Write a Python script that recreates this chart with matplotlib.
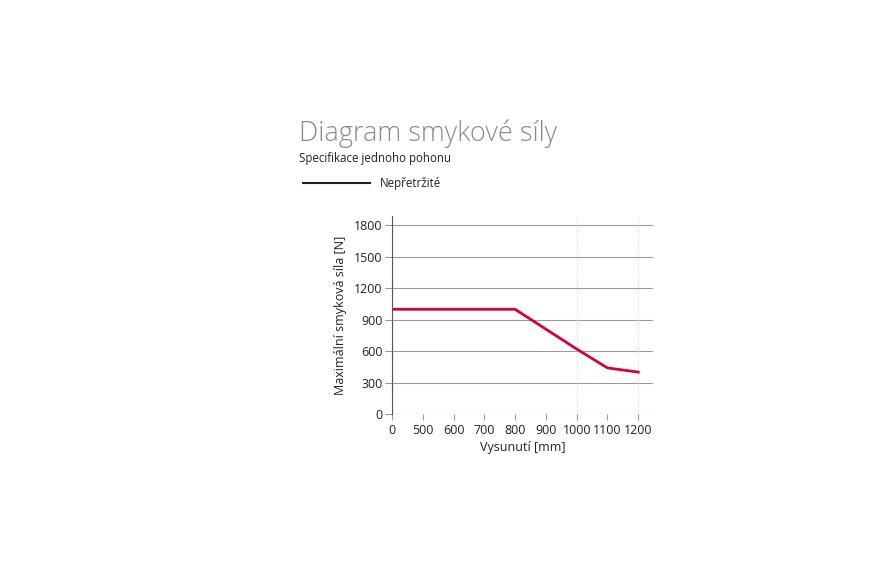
import matplotlib
matplotlib.use("Agg")
import matplotlib.pyplot as plt
from matplotlib.lines import Line2D

plt.rcParams['font.family'] = ['Open Sans', 'DejaVu Sans']

# data (x axis is categorical: 0 then 500..1200)
x_labels = ["0", "500", "600", "700", "800", "900", "1000", "1100", "1200"]
force = [1000, 1000, 1000, 1000, 1000, 810, 620, 440, 400]
y_ticks = [0, 300, 600, 900, 1200, 1500, 1800]

fig = plt.figure(figsize=(8.85, 5.75), dpi=100)
# axes box in pixels: x 392..653, y 216..414
ax = fig.add_axes([392 / 885, 1 - 414 / 575, (653 - 392) / 885, (414 - 216) / 575])

pos = list(range(len(x_labels)))
ax.plot(pos, force, color="#d4003a", lw=2, solid_joinstyle="miter")

ax.set_xlim(0, 8 + 10.0 / 20.9)
ax.set_ylim(0, 1800 * (414 - 216) / (414 - 225.5))
ax.set_yticks(y_ticks)
ax.set_xticks(pos)
ax.set_xticklabels(x_labels)

for y in y_ticks:
    ax.axhline(y, color="#9a9a9a", lw=0.8, zorder=0)
for p in [6, 8]:
    ax.axvline(p, color="#dcdcdc", lw=0.8, ls=(0, (1, 1)), zorder=0)

for s in ["top", "right", "bottom"]:
    ax.spines[s].set_visible(False)
ax.spines["left"].set_color("#555555")
ax.spines["left"].set_linewidth(0.8)
ax.tick_params(axis="y", length=5, width=0.8, color="#9a9a9a", labelsize=9, pad=2, labelcolor="#222222")
ax.tick_params(axis="x", length=4, width=0.8, color="#9a9a9a", labelsize=9, pad=3, labelcolor="#222222")

ax.set_xlabel("Vysunutí [mm]", fontsize=9, color="#222222", labelpad=3)
ax.set_ylabel("Maximální smyková síla [N]", fontsize=9, color="#222222", labelpad=5)

fig.text(299 / 885, 1 - 141 / 575, "Diagram smykové síly", fontsize=19.5,
         color="#8a8a8a", fontweight="light")
fig.text(299 / 885, 1 - 162 / 575, "Specifikace jednoho pohonu", fontsize=8.3, color="#222222")

fig.add_artist(Line2D([303 / 885, 370 / 885], [1 - 183 / 575, 1 - 183 / 575],
                      color="#222222", lw=1.5))
fig.text(380 / 885, 1 - 183 / 575, "Nepřetržité", fontsize=8.3, color="#222222", va="center")

fig.savefig("out.png", dpi=100)
